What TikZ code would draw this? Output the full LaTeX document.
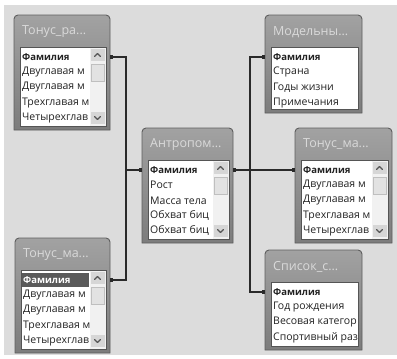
\documentclass[tikz,border=0pt]{standalone}
\usepackage{fontspec}
\setmainfont{Open Sans}
\usetikzlibrary{calc,arrows.meta}
\definecolor{bgcol}{HTML}{DCDCDC}
\definecolor{frtop}{HTML}{A2A2A2}
\definecolor{frbot}{HTML}{7C7C7C}
\definecolor{frline}{HTML}{5E5E5E}
\definecolor{ttlcol}{HTML}{DADADA}
\definecolor{listline}{HTML}{555555}
\definecolor{txtcol}{HTML}{222222}
\definecolor{sbtrack}{HTML}{F1F1F1}
\definecolor{sbbtn}{HTML}{D6D6D6}
\definecolor{sbthumb}{HTML}{E2E2E2}
\definecolor{selcol}{HTML}{5A5A5A}
\definecolor{linkcol}{HTML}{2A2A2A}
\tikzset{
  framebox/.style={draw=none,inner sep=0pt,outer sep=0pt},
  frameshape/.style={top color=frtop,bottom color=frbot,draw=frline,line width=0.9pt},
  titletext/.style={text=ttlcol,font=\fontsize{12.5}{14}\selectfont,inner sep=0pt,anchor=west},
  listbox/.style={fill=white,draw=listline,line width=0.8pt},
  rowtext/.style={text=txtcol,font=\fontsize{10.5}{12}\selectfont,inner sep=0pt,anchor=west},
  keytext/.style={text=txtcol,font=\fontsize{9.5}{11}\selectfont\bfseries,inner sep=0pt,anchor=west},
  chev/.style={draw=listline,line width=1.1pt,line cap=round,line join=round},
  link/.style={draw=linkcol,line width=1.3pt},
  endtip/.style={-{Square[length=2.6pt,width=3.2pt]}},
  bothtips/.style={{Square[length=2.6pt,width=3.2pt]}-{Square[length=2.6pt,width=3.2pt]}},
  starttip/.style={{Square[length=2.6pt,width=3.2pt]}-},
}
% #1 name, #2 x0, #3 y0, #4 width, #5 height, #6 title, #7 scrollbar width (0 = none), #8 key style, #9 extra drawing under key
\newcommand\dbtable[9]{%
  \node[framebox,minimum width=#4pt,minimum height=#5pt,anchor=north west] (#1) at (#2,#3) {};
  \path[frameshape] (#1.south west) {[rounded corners=4pt] -- (#1.north west) -- (#1.north east)} -- (#1.south east) -- cycle;
  \node[titletext] (#1t) at ([xshift=8pt,yshift=-17pt]#1.north west) {#6};
  \draw[listbox] ([xshift=6pt,yshift=-32pt]#1.north west) coordinate (#1la)
     rectangle ([xshift=-4pt,yshift=4pt]#1.south east) coordinate (#1lb);
  \coordinate (#1sb) at ($(#1lb)+(-#7,0)$);
  \begin{scope}
    \clip ($(#1la)+(0.5,0.5)$) rectangle ($(#1sb |- #1lb)+(-0.5,-0.5)$);
    #9
    \node[#8] (#1r1) at ($(#1la)+(2,10)$) {Фамилия};
  \end{scope}
}
\newcommand\tabrows[2]{% #1 name, #2 list of rows
  \begin{scope}
    \clip ($(#1la)+(0.5,0.5)$) rectangle ($(#1sb |- #1lb)+(-0.5,-0.5)$);
    \foreach \txt [count=\i from 2] in {#2} {
      \node[rowtext] (#1r\i) at ($(#1la)+(2,{10+(\i-1)*15.2})$) {\txt};
    }
  \end{scope}
}
\newcommand\scrollbar[1]{% #1 name
  \fill[sbtrack] ($(#1sb |- #1la)+(0,0.5)$) rectangle ($(#1lb)+(-0.5,-0.5)$);
  \fill[sbbtn] ($(#1sb |- #1la)+(1,2)$) rectangle ($(#1lb |- #1la)+(-1.5,14)$);
  \draw[chev] ($(#1sb |- #1la)+(4.5,9.5)$) -- ++(3,-3) -- ++(3,3);
  \draw[fill=sbthumb,draw=black!25] ($(#1sb |- #1la)+(1.5,17)$) rectangle ($(#1lb |- #1la)+(-2,34)$);
  \fill[sbbtn] ($(#1sb |- #1lb)+(1,-14)$) rectangle ($(#1lb)+(-1.5,-2)$);
  \draw[chev] ($(#1sb |- #1lb)+(4.5,-9.5)$) -- ++(3,3) -- ++(3,-3);
}
\begin{document}
\begin{tikzpicture}[x=1pt,y=-1pt]
\useasboundingbox (0,0) rectangle (397,359);
\fill[white] (0,0) rectangle (397,359);
\fill[bgcol] (4,5) rectangle (397,355);

% tables
\dbtable{ta}{14}{15}{96}{115}{Тонус\_ра...}{16}{keytext}{}
\tabrows{ta}{Двуглавая м,Двуглавая м,Трехглавая м,Четырехглав}
\scrollbar{ta}

\dbtable{ca}{142}{128}{91}{115}{Антропом...}{16}{keytext}{}
\tabrows{ca}{Рост,Масса тела,Обхват биц,Обхват биц}
\scrollbar{ca}

\dbtable{ma}{265}{15}{97}{98}{Модельны...}{0}{keytext}{}
\tabrows{ma}{Страна,Годы жизни,Примечания}

\dbtable{ra}{295}{128}{97}{115}{Тонус\_ма...}{16}{keytext}{}
\tabrows{ra}{Двуглавая м,Двуглавая м,Трехглавая м,Четырехглав}
\scrollbar{ra}

\dbtable{ba}{15}{238}{95}{115}{Тонус\_ма...}{16}{keytext,text=white}{\fill[selcol] ($(bala)+(1,3)$) rectangle ($(bala)+(68,17)$);}
\tabrows{ba}{Двуглавая м,Двуглавая м,Трехглавая м,Четырехглав}
\scrollbar{ba}

\dbtable{sa}{265}{250}{97}{100}{Список\_с...}{0}{keytext}{}
\tabrows{sa}{Год рождения,Весовая категор,Спортивный раз}

% junctions
\coordinate (jl) at ($(ca.west |- car1)+(-16,0)$);
\coordinate (jr) at ($(ca.east |- car1)+(17,0)$);

% connectors
\draw[link,bothtips] (ta.east |- tar1) -| (jl) -- (ca.west |- car1);
\draw[link,starttip] (ba.east |- bar1) -| (jl);
\draw[link,bothtips] (ca.east |- car1) -- (jr) -- (ra.west |- rar1);
\draw[link,endtip] (jr) |- (ma.west |- mar1);
\draw[link,endtip] (jr) |- (sa.west |- sar1);
\end{tikzpicture}
\end{document}
